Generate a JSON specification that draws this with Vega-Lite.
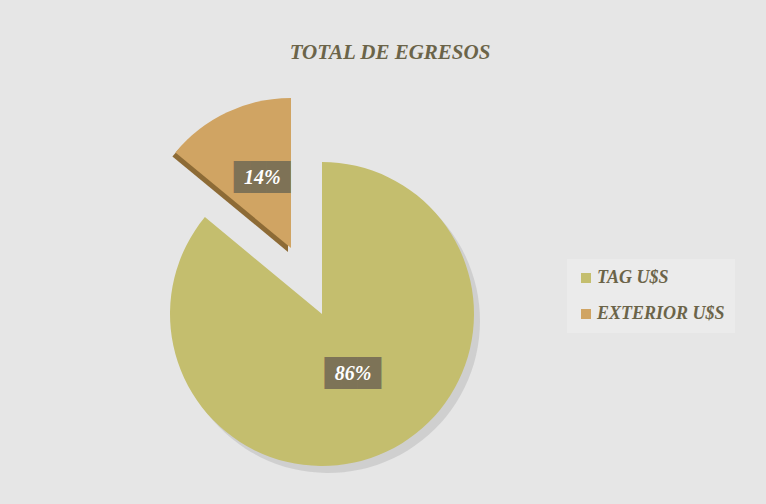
{
  "$schema": "https://vega.github.io/schema/vega-lite/v6.json",
  "autosize": {"type": "none"},
  "width": 644,
  "height": 380,
  "padding": {"left": 0, "top": 124, "right": 122, "bottom": 0},
  "background": "#e6e6e6",
  "title": {
    "text": "TOTAL DE EGRESOS",
    "font": "Liberation Serif",
    "fontSize": 21,
    "fontStyle": "italic",
    "fontWeight": "bold",
    "color": "#6b6449",
    "anchor": "middle",
    "dx": 68,
    "offset": 35
  },
  "data": {
    "values": [
      {"categoria": "TAG U$S", "valor": 0.86},
      {"categoria": "EXTERIOR U$S", "valor": 0.14}
    ]
  },
  "encoding": {
    "theta": {"field": "valor", "type": "quantitative", "stack": true},
    "order": {"field": "valor", "sort": "descending"}
  },
  "layer": [
    {
      "mark": {"type": "arc", "radius": 152, "fill": "#9a9a9a", "xOffset": 6, "yOffset": 7},
      "encoding": {
        "opacity": {"condition": {"test": "datum.categoria === 'TAG U$S'", "value": 0.3}, "value": 0}
      }
    },
    {
      "mark": {"type": "arc", "radius": 152},
      "encoding": {
        "color": {
          "field": "categoria",
          "type": "nominal",
          "sort": ["TAG U$S", "EXTERIOR U$S"],
          "scale": {"domain": ["TAG U$S", "EXTERIOR U$S"], "range": ["#c4be6e", "#d0a463"]},
          "legend": {
            "title": null,
            "orient": "none",
            "legendX": 567,
            "legendY": 135,
            "padding": 10,
            "fillColor": "#ebebeb",
            "symbolType": "square",
            "symbolSize": 100,
            "symbolStrokeWidth": 0,
            "symbolOpacity": 1,
            "labelFont": "Liberation Serif",
            "labelFontSize": 18,
            "labelFontStyle": "italic",
            "labelFontWeight": "bold",
            "labelColor": "#6b6449",
            "labelOffset": 2,
            "rowPadding": 18
          }
        },
        "opacity": {"condition": {"test": "datum.categoria === 'TAG U$S'", "value": 1}, "value": 0}
      }
    },
    {
      "mark": {"type": "arc", "radius": 150, "fill": "#8d6b36", "xOffset": -34, "yOffset": -62},
      "encoding": {
        "opacity": {"condition": {"test": "datum.categoria === 'EXTERIOR U$S'", "value": 1}, "value": 0}
      }
    },
    {
      "mark": {"type": "arc", "radius": 150, "xOffset": -31, "yOffset": -66},
      "encoding": {
        "color": {"field": "categoria", "type": "nominal", "sort": ["TAG U$S", "EXTERIOR U$S"]},
        "opacity": {"condition": {"test": "datum.categoria === 'EXTERIOR U$S'", "value": 1}, "value": 0}
      }
    },
    {
      "mark": {"type": "text", "radius": 66, "font": "DejaVu Sans Mono", "fontSize": 27, "text": "███▌", "fill": "#7a7056", "baseline": "middle", "align": "center", "dx": 7},
      "encoding": {
        "opacity": {"condition": {"test": "datum.categoria === 'TAG U$S'", "value": 0.95}, "value": 0}
      }
    },
    {
      "mark": {"type": "text", "radius": 77, "font": "DejaVu Sans Mono", "fontSize": 27, "text": "███▌", "fill": "#7a7056", "baseline": "middle", "align": "center", "dx": 4, "xOffset": -27, "yOffset": -66},
      "encoding": {
        "opacity": {"condition": {"test": "datum.categoria === 'EXTERIOR U$S'", "value": 0.95}, "value": 0}
      }
    },
    {
      "mark": {"type": "text", "radius": 66, "font": "Liberation Serif", "fontSize": 20, "fontStyle": "italic", "fontWeight": "bold", "fill": "#ffffff", "baseline": "middle", "align": "center", "dx": 3},
      "encoding": {
        "text": {"field": "valor", "type": "quantitative", "format": ".0%"},
        "opacity": {"condition": {"test": "datum.categoria === 'TAG U$S'", "value": 1}, "value": 0}
      }
    },
    {
      "mark": {"type": "text", "radius": 77, "font": "Liberation Serif", "fontSize": 20, "fontStyle": "italic", "fontWeight": "bold", "fill": "#ffffff", "baseline": "middle", "align": "center", "xOffset": -27, "yOffset": -66},
      "encoding": {
        "text": {"field": "valor", "type": "quantitative", "format": ".0%"},
        "opacity": {"condition": {"test": "datum.categoria === 'EXTERIOR U$S'", "value": 1}, "value": 0}
      }
    }
  ],
  "config": {"view": {"stroke": null}}
}
